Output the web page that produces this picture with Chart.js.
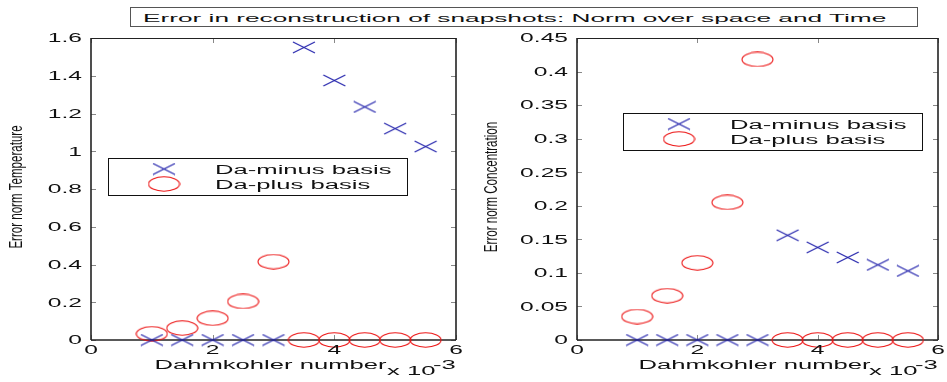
<!DOCTYPE html>
<html>
<head>
<meta charset="utf-8">
<script src="https://cdn.jsdelivr.net/npm/chart.js@4"></script>
<style>
  html, body { margin: 0; padding: 0; background: #fff; }
  #wrap { position: relative; width: 947px; height: 382px; overflow: hidden; }
  canvas { position: absolute; top: 0; }
  #tempChart { left: 0; }
  #concChart { left: 470px; }
  #title { position: absolute; left: 130px; top: 7px; width: 786px; height: 18px; border: 1px solid #555; background: #fff; }
  #title span { position: absolute; left: 12px; top: 1px; font: 11.5px "Liberation Sans", Arial, sans-serif; line-height: 18px; white-space: nowrap; transform-origin: 0 50%; transform: scaleX(2.28); color: #111; }
</style>
</head>
<body>
<div id="wrap">
  <canvas id="tempChart" width="470" height="382"></canvas>
  <canvas id="concChart" width="477" height="382"></canvas>
  <div id="title"><span>Error in reconstruction of snapshots: Norm over space and Time</span></div>
</div>
<script>
// Dahmkohler numbers (real units, axis shows them x 10^-3)
const daNumber = [0.001, 0.0015, 0.002, 0.0025, 0.003, 0.0035, 0.004, 0.0045, 0.005, 0.0055];

// error norm, temperature
const tempMinus = [0, 0, 0, 0, 0, 1.55, 1.375, 1.235, 1.12, 1.025];
const tempPlus  = [0.033, 0.063, 0.115, 0.204, 0.415, 0, 0, 0, 0, 0];

// error norm, concentration
const concMinus = [0, 0, 0, 0, 0, 0.156, 0.138, 0.123, 0.112, 0.103];
const concPlus  = [0.035, 0.066, 0.115, 0.205, 0.418, 0, 0, 0, 0, 0];

const seriesLabels = ['Da-minus basis', 'Da-plus basis'];
const xTicks = [0, 0.002, 0.004, 0.006];

const FONT = '"Liberation Sans", Arial, sans-serif';
const SX = 2.05; // text in the figure is drawn wide
const BLUE = '#1e1eaa';
const RED = '#ec1414';

// marker images: wide x and wide ellipse, like the stretched matlab figure
function makeCross() {
  const c = document.createElement('canvas');
  c.width = 24; c.height = 13;
  const g = c.getContext('2d');
  g.strokeStyle = BLUE; g.lineWidth = 1.1;
  g.beginPath();
  g.moveTo(1, 1); g.lineTo(23, 12);
  g.moveTo(1, 12); g.lineTo(23, 1);
  g.stroke();
  return c;
}
function makeRing() {
  const c = document.createElement('canvas');
  c.width = 33; c.height = 16;
  const g = c.getContext('2d');
  g.strokeStyle = RED; g.lineWidth = 1.1;
  g.beginPath();
  g.ellipse(16.5, 8, 15.5, 7.2, 0, 0, Math.PI * 2);
  g.stroke();
  return c;
}
const crossImg = makeCross();
const ringImg = makeRing();

function toPoints(ys) {
  return daNumber.map((x, i) => ({ x, y: ys[i] }));
}

function wideText(ctx, text, x, y, size, align, baseline) {
  ctx.save();
  ctx.translate(x, y);
  ctx.scale(SX, 1);
  ctx.font = size + 'px ' + FONT;
  ctx.textAlign = align;
  ctx.textBaseline = baseline;
  ctx.fillStyle = '#111';
  ctx.fillText(text, 0, 0);
  ctx.restore();
}

function seg(ctx, x1, y1, x2, y2) {
  ctx.beginPath();
  ctx.moveTo(x1, y1);
  ctx.lineTo(x2, y2);
  ctx.stroke();
}

const matlabAxes = {
  id: 'matlabAxes',
  beforeDatasetsDraw(chart) {
    const { ctx, chartArea: a, scales: { x, y } } = chart;
    ctx.save();
    ctx.strokeStyle = '#888';
    ctx.lineWidth = 1;
    y.ticks.forEach(t => {
      const py = Math.round(y.getPixelForValue(t.value)) + 0.5;
      seg(ctx, a.left, py, a.left + 5, py);
      seg(ctx, a.right - 5, py, a.right, py);
    });
    x.ticks.forEach(t => {
      const px = Math.round(x.getPixelForValue(t.value)) + 0.5;
      seg(ctx, px, a.bottom, px, a.bottom - 5);
      seg(ctx, px, a.top, px, a.top + 5);
    });
    ctx.strokeStyle = '#222';
    ctx.lineWidth = 1;
    seg(ctx, a.left, a.top + 0.5, a.right, a.top + 0.5);
    ctx.lineWidth = 1.6;
    seg(ctx, a.left, a.top, a.left, a.bottom);
    seg(ctx, a.right, a.top, a.right, a.bottom);
    seg(ctx, a.left, a.bottom, a.right, a.bottom);
    ctx.restore();
  },
  afterDraw(chart, args, opts) {
    const { ctx, chartArea: a, scales: { x, y } } = chart;

    // tick labels
    y.ticks.forEach(t => {
      wideText(ctx, t.label, a.left - 9, y.getPixelForValue(t.value) + 1, 12, 'right', 'middle');
    });
    x.ticks.forEach(t => {
      wideText(ctx, t.label, x.getPixelForValue(t.value), a.bottom + 11, 12, 'center', 'middle');
    });

    // axis titles
    wideText(ctx, 'Dahmkohler number', (a.left + a.right) / 2 - 3, a.bottom + 29, 12.5, 'center', 'alphabetic');
    wideText(ctx, 'x 10', a.right - 69, a.bottom + 35, 12.5, 'left', 'alphabetic');
    wideText(ctx, '-3', a.right - 23, a.bottom + 29, 12.5, 'left', 'alphabetic');

    ctx.save();
    ctx.translate(opts.yTitleX, (a.top + a.bottom) / 2 - 2);
    ctx.rotate(-Math.PI / 2);
    ctx.scale(0.66, 1);
    ctx.font = '17.5px ' + FONT;
    ctx.textAlign = 'center';
    ctx.textBaseline = 'middle';
    ctx.fillStyle = '#111';
    ctx.fillText(opts.yTitle, 0, 0);
    ctx.restore();

    // legend box
    const lx = a.left + opts.legendX, ly = a.top + opts.legendY;
    ctx.save();
    ctx.fillStyle = '#fff';
    ctx.fillRect(lx, ly, 299, 37);
    ctx.strokeStyle = '#111';
    ctx.lineWidth = 1;
    ctx.strokeRect(lx + 0.5, ly + 0.5, 299, 37);
    ctx.restore();
    chart.data.datasets.forEach((ds, i) => {
      const img = ds.pointStyle;
      const cy = ly + 11 + i * 15;
      ctx.drawImage(img, lx + 56 - img.width / 2, cy - img.height / 2);
      wideText(ctx, ds.label, lx + 107, cy + 4.5, 12.5, 'left', 'alphabetic');
    });
  }
};

function makeChart(id, minusVals, plusVals, yMax, yStep, yTitle, yTitleX, legendX, legendY, yWidth, padRight) {
  return new Chart(document.getElementById(id), {
    type: 'scatter',
    data: {
      datasets: [
        { label: seriesLabels[0], data: toPoints(minusVals), pointStyle: crossImg, pointRadius: 8, clip: false },
        { label: seriesLabels[1], data: toPoints(plusVals), pointStyle: ringImg, pointRadius: 8, clip: false }
      ]
    },
    options: {
      responsive: false,
      animation: false,
      events: [],
      layout: { padding: { left: 0, right: padRight, top: 38, bottom: 0 } },
      scales: {
        x: {
          type: 'linear', min: 0, max: 0.006,
          afterBuildTicks: s => { s.ticks = xTicks.map(v => ({ value: v })); },
          ticks: { display: false, callback: v => String(Math.round(v * 1000)) },
          grid: { display: false }, border: { display: false },
          afterFit: s => { s.height = 42; }
        },
        y: {
          min: 0, max: yMax,
          ticks: { display: false, stepSize: yStep, callback: v => String(+v.toFixed(3)) },
          grid: { display: false }, border: { display: false },
          afterFit: s => { s.width = yWidth; }
        }
      },
      plugins: {
        legend: { display: false },
        tooltip: { enabled: false },
        matlabAxes: { yTitle, yTitleX, legendX, legendY }
      }
    },
    plugins: [matlabAxes]
  });
}

makeChart('tempChart', tempMinus, tempPlus, 1.6, 0.2, 'Error norm Temperature', 17.5, 17, 120, 91, 14);
makeChart('concChart', concMinus, concPlus, 0.45, 0.05, 'Error norm Concentration', 22, 46, 75, 107, 5);
</script>
</body>
</html>
